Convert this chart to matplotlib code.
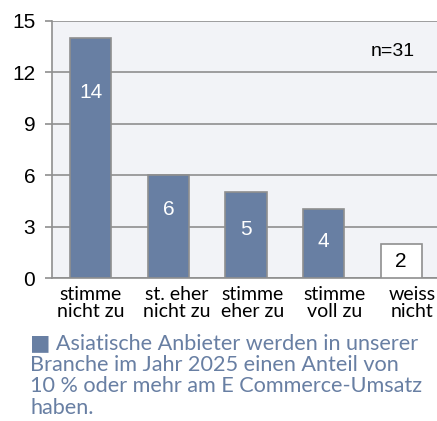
import matplotlib
matplotlib.use("Agg")
import matplotlib.pyplot as plt
import matplotlib.transforms as mtransforms

categories = ["stimme\nnicht zu", "st. eher\nnicht zu", "stimme\neher zu", "stimme\nvoll zu", "weiss\nnicht"]
values = [14, 6, 5, 4, 2]
yticks = [0, 3, 6, 9, 12, 15]
sample_note = "n=31"
legend_text = ("Asiatische Anbieter werden in unserer\n"
               "Branche im Jahr 2025 einen Anteil von\n"
               "10 % oder mehr am E Commerce-Umsatz\n"
               "haben.")

bar_blue = "#687fa3"
grid_gray = "#8f8f8f"
bg = "#f2f3f7"

fig = plt.figure(figsize=(4.37, 4.21), dpi=100)
ax = fig.add_axes([52 / 437, 1 - 278 / 421, 388 / 437, 257 / 421])
ax.set_facecolor(bg)

colors = [bar_blue] * 4 + ["white"]
x = list(range(len(values)))
ax.bar(x, values, width=0.53, color=colors, edgecolor=grid_gray, linewidth=1.2, zorder=3)

# label offsets below the bar top, in points
offsets = [-39, -25, -27, -23, -13]
for xi, v, off, c in zip(x, values, offsets, colors):
    ax.annotate(str(v), (xi, v), xytext=(0, off), textcoords="offset points",
                ha="center", va="center", fontsize=15, family="Liberation Sans",
                color="white" if c != "white" else "black", zorder=4)

ax.set_xlim(-0.5, 4.5)
ax.set_ylim(0, 15)
ax.set_yticks(yticks)
ax.set_yticklabels([str(t) for t in yticks], fontsize=15, family="Liberation Sans")
ax.yaxis.grid(True, color=grid_gray, linewidth=1.2, zorder=0)
ax.set_axisbelow(True)
ax.tick_params(axis="y", length=5, width=1.2, color=grid_gray, pad=7)
ax.tick_params(axis="x", length=0, pad=6)
ax.set_xticks(x)
ax.set_xticklabels(categories, fontsize=14, family="Lato", linespacing=0.95)

# category labels sit a bit right of the bars in the original
shifts_px = [0, 8, 7, 11, 11]
for lbl, dx in zip(ax.get_xticklabels(), shifts_px):
    lbl.set_transform(lbl.get_transform() + mtransforms.ScaledTranslation(dx / 100, 0, fig.dpi_scale_trans))

for s in ["top", "right"]:
    ax.spines[s].set_visible(False)
for s in ["left", "bottom"]:
    ax.spines[s].set_color(grid_gray)
    ax.spines[s].set_linewidth(1.2)

fig.text(393 / 437, 1 - 51 / 421, sample_note, ha="center", va="center",
         fontsize=14, family="Liberation Sans")

fig.text(30 / 437, 1 - 333 / 421, "\u25a0 " + legend_text, ha="left", va="top",
         fontsize=15.6, family=["Lato", "DejaVu Sans"], color=bar_blue, linespacing=1.1)

fig.savefig("out.png", dpi=100)
